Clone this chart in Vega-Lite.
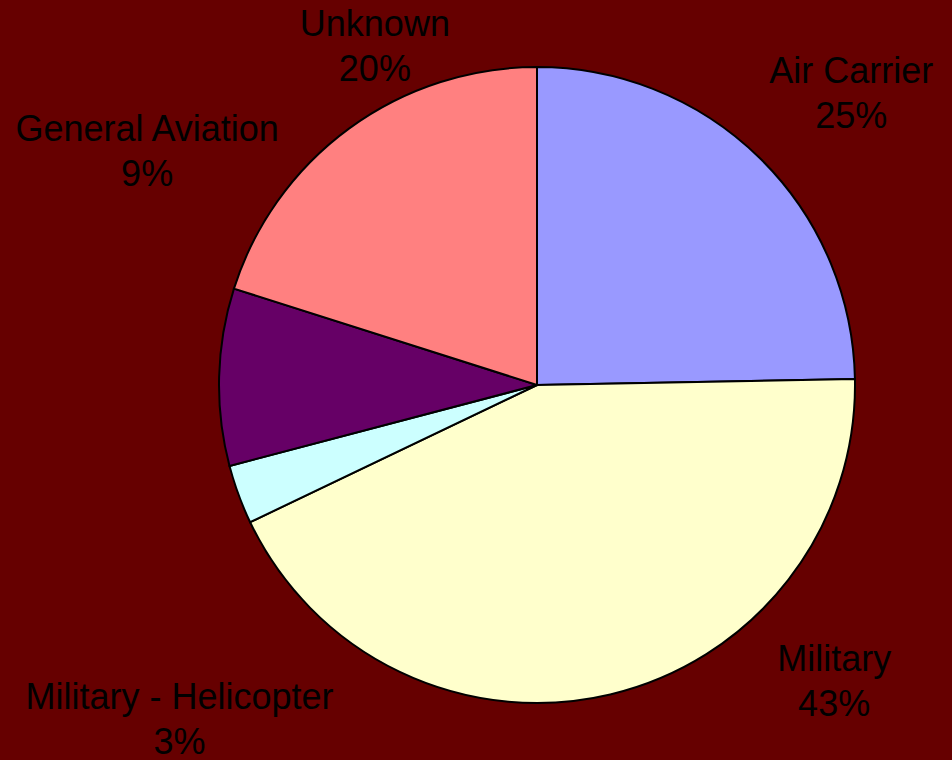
{
  "$schema": "https://vega.github.io/schema/vega-lite/v6.json",
  "width": 830,
  "height": 750,
  "autosize": "none",
  "padding": {"left": 122, "top": 10, "right": 0, "bottom": 0},
  "background": "#660000",
  "config": {"view": {"stroke": null}},
  "data": {
    "values": [
      {"category": "Air Carrier", "value": 24.7, "label": "Air Carrier\n25%"},
      {"category": "Military", "value": 43.2, "label": "Military\n43%"},
      {"category": "Military - Helicopter", "value": 3.0, "label": "Military - Helicopter\n3%"},
      {"category": "General Aviation", "value": 9.0, "label": "General Aviation\n9%"},
      {"category": "Unknown", "value": 20.1, "label": "Unknown\n20%"}
    ]
  },
  "transform": [{"window": [{"op": "row_number", "as": "idx"}]}],
  "encoding": {
    "theta": {"field": "value", "type": "quantitative", "stack": true},
    "order": {"field": "idx", "type": "quantitative"}
  },
  "layer": [
    {
      "mark": {"type": "arc", "outerRadius": 318, "stroke": "#000000", "strokeWidth": 2},
      "encoding": {
        "color": {
          "field": "category",
          "type": "nominal",
          "scale": {
            "domain": ["Air Carrier", "Military", "Military - Helicopter", "General Aviation", "Unknown"],
            "range": ["#9999FF", "#FFFFCC", "#CCFFFF", "#660066", "#FF8080"]
          },
          "legend": null
        }
      }
    },
    {
      "mark": {"type": "text", "radius": 400, "dx": 34, "dy": -17, "font": "Liberation Sans", "fontSize": 36, "lineHeight": 45, "lineBreak": "\n", "align": "center", "baseline": "alphabetic", "color": "#000000"},
      "encoding": {"text": {"condition": {"test": "datum.category === 'Air Carrier'", "field": "label", "type": "nominal"}, "value": ""}}
    },
    {
      "mark": {"type": "text", "radius": 400, "dx": 205, "dy": -103, "font": "Liberation Sans", "fontSize": 36, "lineHeight": 45, "lineBreak": "\n", "align": "center", "baseline": "alphabetic", "color": "#000000"},
      "encoding": {"text": {"condition": {"test": "datum.category === 'Military'", "field": "label", "type": "nominal"}, "value": ""}}
    },
    {
      "mark": {"type": "text", "radius": 400, "dx": 18, "dy": 186, "font": "Liberation Sans", "fontSize": 36, "lineHeight": 45, "lineBreak": "\n", "align": "center", "baseline": "alphabetic", "color": "#000000"},
      "encoding": {"text": {"condition": {"test": "datum.category === 'Military - Helicopter'", "field": "label", "type": "nominal"}, "value": ""}}
    },
    {
      "mark": {"type": "text", "radius": 400, "dx": 10, "dy": -234, "font": "Liberation Sans", "fontSize": 36, "lineHeight": 45, "lineBreak": "\n", "align": "center", "baseline": "alphabetic", "color": "#000000"},
      "encoding": {"text": {"condition": {"test": "datum.category === 'General Aviation'", "field": "label", "type": "nominal"}, "value": ""}}
    },
    {
      "mark": {"type": "text", "radius": 400, "dx": 74, "dy": -26, "font": "Liberation Sans", "fontSize": 36, "lineHeight": 45, "lineBreak": "\n", "align": "center", "baseline": "alphabetic", "color": "#000000"},
      "encoding": {"text": {"condition": {"test": "datum.category === 'Unknown'", "field": "label", "type": "nominal"}, "value": ""}}
    }
  ]
}
